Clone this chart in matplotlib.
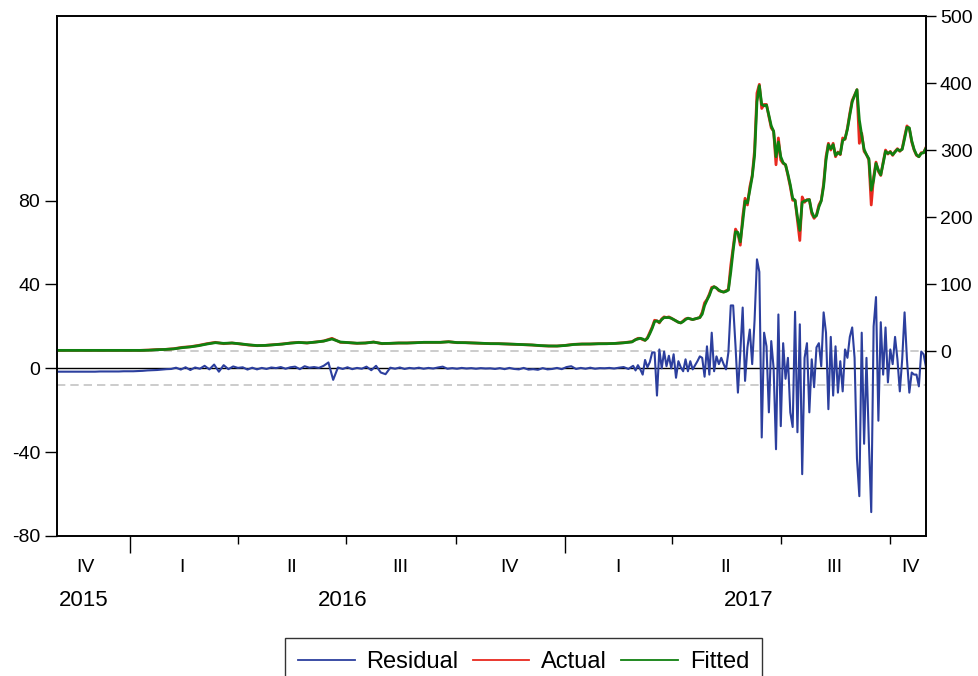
import numpy as np
import pandas as pd
import matplotlib
matplotlib.use("Agg")
import matplotlib.pyplot as plt
import matplotlib.dates as mdates
from matplotlib.lines import Line2D
from matplotlib.transforms import blended_transform_factory

plt.rcParams['font.family'] = ['Liberation Sans', 'DejaVu Sans']
plt.rcParams['axes.unicode_minus'] = False

# ---- data ----
# weekly actual / fitted, 2015-11-01 .. 2017-02-26
actual_early = [1.0, 1.0, 1.0, 0.9, 0.9, 0.9, 0.9, 0.9, 0.9, 1.0,
                1.0, 1.5, 2.2, 2.5, 3.5, 5.5, 6.5, 8.5, 11, 13,
                11, 12, 10.5, 9, 8, 8.5, 9.5, 10.5, 12, 13,
                12, 13.5, 15, 19, 13, 12.5, 11.5, 12, 13.5, 11,
                11.5, 12, 12, 12.5, 13, 13, 13, 14, 12.5, 12.5,
                12, 11.5, 11, 11, 10.5, 10, 9.5, 9, 8, 7.5,
                7.5, 8.5, 10, 10.5, 10.5, 11, 11, 11.5, 12.5, 14]
fitted_early = [1.0, 1.0, 1.0, 1.0, 0.9, 0.9, 0.9, 0.9, 0.9, 0.9,
                1.0, 1.2, 2.0, 2.4, 3.2, 5.0, 6.2, 8.0, 10.5, 12.5,
                11.5, 12, 10.8, 9.3, 8.2, 8.4, 9.3, 10.3, 11.8, 12.8,
                12.2, 13.3, 14.8, 18, 13.5, 12.6, 11.7, 12, 13.3, 11.3,
                11.5, 12, 12, 12.4, 13, 13, 13, 13.8, 12.7, 12.5,
                12.1, 11.6, 11.1, 11, 10.6, 10.1, 9.6, 9.1, 8.2, 7.6,
                7.5, 8.3, 9.8, 10.4, 10.5, 10.9, 11, 11.4, 12.3, 13.6]

# every 2 days, 2017-03-01 .. 2017-10-31
actual_late = [17, 19, 19, 17, 16, 20, 28, 36, 46, 45,
               42, 48, 51, 50, 51, 49, 47, 45, 43, 42,
               45, 48, 49, 48, 47, 48, 49, 50, 58, 72,
               77, 85, 95, 96, 94, 90, 89, 88, 90, 92,
               128, 155, 182, 175, 158, 200, 228, 218, 245, 262,
               300, 385, 398, 362, 368, 368, 350, 333, 328, 278,
               318, 285, 280, 278, 262, 245, 225, 225, 195, 165,
               230, 222, 226, 226, 205, 198, 203, 218, 225, 250,
               290, 310, 300, 310, 290, 297, 293, 318, 316, 333,
               355, 374, 382, 390, 310, 325, 298, 293, 285, 218,
               260, 282, 268, 262, 282, 300, 294, 298, 292, 298,
               302, 298, 302, 320, 336, 332, 312, 300, 292, 290,
               296, 296, 304]
fitted_late = [17, 18, 19, 18, 16, 19, 26, 34, 44, 45,
               43, 47, 50, 50, 50, 49, 47, 45, 43, 42,
               44, 47, 49, 48, 47, 48, 49, 50, 55, 68,
               76, 83, 93, 96, 94, 91, 89, 88, 89, 91,
               118, 150, 178, 177, 163, 192, 224, 221, 240, 260,
               292, 372, 396, 368, 366, 367, 352, 336, 328, 290,
               312, 290, 281, 278, 264, 248, 228, 225, 200, 180,
               222, 224, 225, 226, 208, 200, 202, 215, 224, 246,
               285, 308, 302, 308, 292, 296, 294, 314, 317, 331,
               352, 372, 381, 390, 345, 322, 301, 293, 287, 240,
               255, 280, 270, 263, 280, 298, 295, 297, 293, 297,
               301, 299, 301, 317, 334, 333, 314, 301, 293, 290,
               295, 296, 303]

# residual every 4 days, 2015-11-01 .. 2017-02-27
resid_early = [-1.6, -1.6, -1.6, -1.6, -1.6, -1.6, -1.6, -1.6, -1.6, -1.5,
               -1.5, -1.5, -1.5, -1.5, -1.4, -1.4, -1.4, -1.3, -1.2, -1.0,
               -0.9, -0.8, -0.6, -0.4, -0.3, 0.3, -0.6, 0.5, -0.8, 0.4,
               -0.2, 1.2, -0.5, 1.8, -1.6, 1.5, -0.4, 0.9, 0.2, 0.5,
               -0.6, 0.3, -0.5, 0.2, -0.3, 0.4, 0.1, 0.6, -0.2, 0.5,
               0.8, -0.4, 1.0, 0.3, 0.6, 0.2, 1.2, 2.8, -5.5, 0.4,
               -0.3, 0.5, -0.4, 0.2, -0.2, 0.8, -0.9, 1.2, -2.0, -2.8,
               0.3, -0.2, 0.4, -0.3, 0.2, -0.1, 0.3, -0.2, 0.2, -0.1,
               0.4, 0.8, -0.2, 0.1, -0.2, 0.2, -0.1, 0.1, -0.2, 0.1,
               -0.1, 0.0, -0.3, 0.1, -0.4, 0.2, -0.3, -0.5, 0.2, -0.6,
               -0.4, -0.7, 0.1, -0.5, -0.3, 0.2, -0.4, 0.6, 1.0, -0.3,
               0.2, -0.2, 0.3, -0.2, 0.1, 0.0, 0.2, -0.1, 0.3, 0.6,
               -0.3, 1.2]
# residual every 2 days, 2017-03-01 .. 2017-10-31
resid_late = [-1.0, 1.5, -0.5, -3, 4, 0.5, 3, 7.6, 7.6, -13,
              9, 0, 8, 1, 6, 0, 6.7, -4.5, 3.4, 0.5,
              -1.4, 4.3, -1.4, 3.4, -0.5, 1.5, 3.4, 5.7, 5, -4,
              10.5, -3, 17, -1.4, 5.7, 2, 5, 2, -0.5, 7.6,
              30, 30, 10.5, -11.6, 7.6, 29, -6, 10, 18.5, 2,
              23, 52, 46, -33, 17, 10.5, -21, 13, 0, -38.6,
              25.7, -27.6, 12, -5, 5, -21, -28, 27, -30.5, 21,
              -50.5, 5, 12, -21, 4.3, -9, 10, 12, 1, 26.7,
              17, -19.5, 15, -13, 10.5, -11.6, 3.4, -11, 9, 5,
              15, 19.5, 5, -43, -61, 17, -36, 5, -35, -68.6,
              20, 34, -25, 22, -3, 19.5, -6.7, 9, 2, 15,
              4.3, -11, 4.3, 26.7, 4.3, -11.6, -2, -3, -3, -8.6,
              8, 6.7, 0.5]

resid_sd = 8.1

quarter_labels = ['IV', 'I', 'II', 'III', 'IV', 'I', 'II', 'III', 'IV']
quarter_label_dates = ['2015-11-25', '2016-02-14', '2016-05-16', '2016-08-15', '2016-11-15',
                       '2017-02-14', '2017-05-16', '2017-08-15', '2017-10-18']
year_labels = ['2015', '2016', '2017']
year_label_dates = ['2015-11-23', '2016-06-28', '2017-06-04']

# ---- dates ----
d_act_early = pd.date_range('2015-11-01', periods=len(actual_early), freq='7D')
d_late = pd.date_range('2017-03-01', periods=len(actual_late), freq='2D')
d_res_early = pd.date_range('2015-11-01', periods=len(resid_early), freq='4D')

act_dates = np.concatenate([d_act_early.values, d_late.values])
actual = actual_early + actual_late
fitted = fitted_early + fitted_late
res_dates = np.concatenate([d_res_early.values, d_late.values])
resid = resid_early + resid_late

c_res = '#2c3f9e'
c_act = '#e8291f'
c_fit = '#108010'

fig = plt.figure(figsize=(9.79, 6.76), dpi=100)
ax = fig.add_axes([57 / 979, 1 - 536 / 676, 869 / 979, 520 / 676])
ax2 = ax.twinx()

x0 = mdates.date2num(pd.Timestamp('2015-11-01'))
x1 = mdates.date2num(pd.Timestamp('2017-10-31'))

ax.axhline(0, color='black', lw=1.0, zorder=1)
ax.axhline(resid_sd, color='#c4c4c4', lw=1.2, ls=(0, (5, 3)), zorder=1)
ax.axhline(-resid_sd, color='#c4c4c4', lw=1.2, ls=(0, (5, 3)), zorder=1)
ax.plot(mdates.date2num(pd.to_datetime(res_dates)), resid, color=c_res, lw=1.5, zorder=3)

ax2.plot(mdates.date2num(pd.to_datetime(act_dates)), actual, color=c_act, lw=2.0)
ax2.plot(mdates.date2num(pd.to_datetime(act_dates)), fitted, color=c_fit, lw=2.0)

ax.set_xlim(x0, x1)
ax.set_ylim(-80, 168.1)
ax2.set_ylim(-276, 500)
ax.set_yticks([-80, -40, 0, 40, 80])
ax2.set_yticks([0, 100, 200, 300, 400, 500])
ax.tick_params(axis='y', labelsize=14, length=9, width=1, pad=3)
ax2.tick_params(axis='y', labelsize=14, length=7, width=1, pad=3)

years = [mdates.date2num(pd.Timestamp(s)) for s in ['2016-01-01', '2017-01-01']]
quarters = [mdates.date2num(pd.Timestamp(s)) for s in
            ['2016-04-01', '2016-07-01', '2016-10-01', '2017-04-01', '2017-07-01', '2017-10-01']]
ax.set_xticks(years)
ax.set_xticks(quarters, minor=True)
ax.tick_params(axis='x', which='major', length=12, width=1, labelbottom=False)
ax.tick_params(axis='x', which='minor', length=6, width=1, labelbottom=False)

for sp in list(ax.spines.values()) + list(ax2.spines.values()):
    sp.set_linewidth(1.2)
    sp.set_color('black')

trans = blended_transform_factory(ax.transData, ax.transAxes)
for lab, d in zip(quarter_labels, quarter_label_dates):
    ax.text(mdates.date2num(pd.Timestamp(d)), -0.06, lab, transform=trans,
            ha='center', va='center', fontsize=14)
for lab, d in zip(year_labels, year_label_dates):
    ax.text(mdates.date2num(pd.Timestamp(d)), -0.125, lab, transform=trans,
            ha='center', va='center', fontsize=16)

handles = [Line2D([], [], color=c_res, lw=1.3),
           Line2D([], [], color=c_act, lw=1.3),
           Line2D([], [], color=c_fit, lw=1.3)]
leg = fig.legend(handles, ['Residual', 'Actual', 'Fitted'], loc='upper center',
                 bbox_to_anchor=(523.5 / 979, 1 - 638 / 676), ncol=3, frameon=True,
                 fancybox=False, edgecolor='black', fontsize=17, handlelength=2.4,
                 handletextpad=0.5, columnspacing=0.6, borderpad=0.55, borderaxespad=0)
leg.get_frame().set_linewidth(1.0)

fig.savefig('out.png', dpi=100)
